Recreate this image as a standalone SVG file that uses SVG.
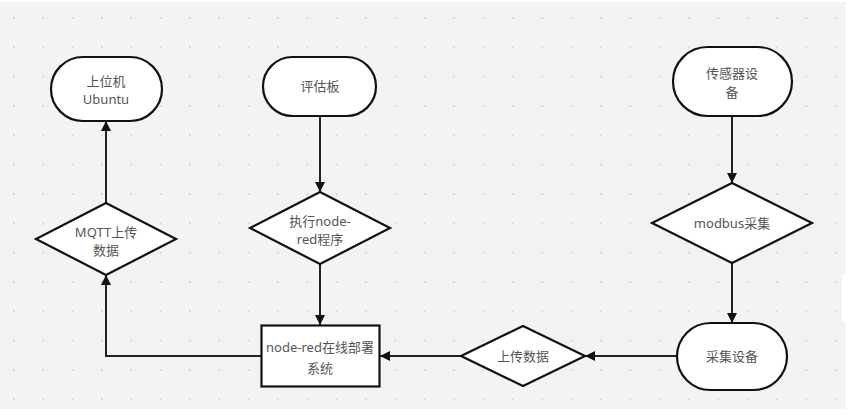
<svg xmlns="http://www.w3.org/2000/svg" width="848" height="414" viewBox="0 0 848 414">
<defs>
<pattern id="dots" x="13" y="17" width="29.35" height="29.35" patternUnits="userSpaceOnUse">
<circle cx="0.8" cy="0.8" r="0.9" fill="#c4c4c8"/>
</pattern>
<marker id="ah" viewBox="0 0 10 10" refX="10" refY="5" markerWidth="10" markerHeight="10" markerUnits="userSpaceOnUse" orient="auto">
<path d="M0,0 L10,5 L0,10 Z" fill="#111"/>
</marker>
<style>
.shape{fill:#fff;stroke:#111;stroke-width:2.2}
.t{font-family:"Noto Sans","Noto Sans CJK SC",sans-serif;font-size:13px;fill:#555;text-anchor:middle}
.c{fill:none;stroke:#222;stroke-width:2}
</style>
</defs>
<rect width="848" height="414" fill="#ffffff"/>
<rect x="0" y="2" width="846" height="407" fill="#f3f3f5"/>
<rect x="0" y="2" width="846" height="407" fill="url(#dots)"/>
<rect x="842" y="273" width="10" height="49" rx="4" fill="#ffffff"/>
<g id="connectors">
<path class="c" d="M106,203 L106,121" marker-end="url(#ah)"/>
<path class="c" d="M320,116 L320,192" marker-end="url(#ah)"/>
<path class="c" d="M732,116 L732,183" marker-end="url(#ah)"/>
<path class="c" d="M732,263 L732,323" marker-end="url(#ah)"/>
<path class="c" d="M320,264 L320,325" marker-end="url(#ah)"/>
<path class="c" d="M677,356 L585,356" marker-end="url(#ah)"/>
<path class="c" d="M461,356 L380,356" marker-end="url(#ah)"/>
<path class="c" d="M261,356 L106,356 L106,275" marker-end="url(#ah)"/>
</g>
<g id="host">
<rect class="shape" x="51" y="57" width="111" height="64" rx="32"/>
<text class="t" x="106" y="86">上位机</text>
<text class="t" x="106" y="104">Ubuntu</text>
</g>
<g id="board">
<rect class="shape" x="263" y="57" width="113" height="59" rx="29.5"/>
<text class="t" x="320" y="91">评估板</text>
</g>
<g id="sensor">
<rect class="shape" x="673" y="47" width="119" height="69" rx="34.5"/>
<text class="t" x="732" y="78">传感器设</text>
<text class="t" x="732" y="97">备</text>
</g>
<g id="mqtt">
<polygon class="shape" points="106,203 176,239 106,275 36,239"/>
<text class="t" x="106" y="237">MQTT上传</text>
<text class="t" x="106" y="255">数据</text>
</g>
<g id="exec">
<polygon class="shape" points="320,192 390,228 320,264 250,228"/>
<text class="t" x="320" y="226">执行node-</text>
<text class="t" x="320" y="244">red程序</text>
</g>
<g id="modbus">
<polygon class="shape" points="732,183 812,223 732,263 652,223"/>
<text class="t" x="732" y="228">modbus采集</text>
</g>
<g id="collect">
<rect class="shape" x="677" y="323" width="110" height="67" rx="33.5"/>
<text class="t" x="732" y="361">采集设备</text>
</g>
<g id="upload">
<polygon class="shape" points="523,326 585,356 523,386 461,356"/>
<text class="t" x="523" y="361">上传数据</text>
</g>
<g id="deploy">
<rect class="shape" x="261.5" y="325.5" width="118" height="61" stroke-width="2.8"/>
<text class="t" x="320" y="352">node-red在线部署</text>
<text class="t" x="320" y="373">系统</text>
</g>
</svg>
